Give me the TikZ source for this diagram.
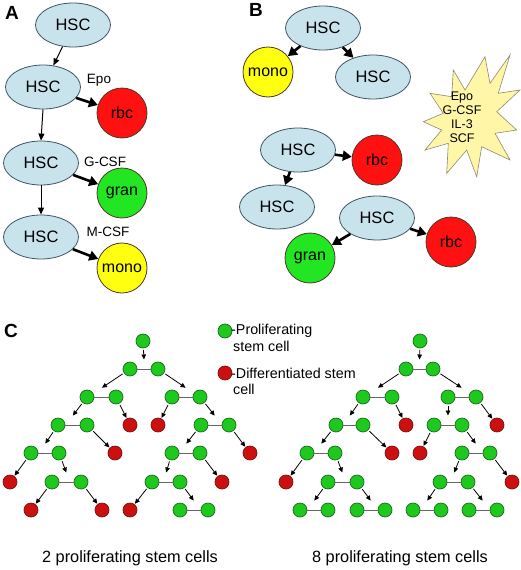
\documentclass[tikz,border=0pt]{standalone}
\usepackage{fontspec}
\setmainfont{Liberation Sans}
\usetikzlibrary{arrows.meta,shapes.geometric,calc}
\newcommand{\setfs}[1]{\fontsize{#1}{#1}\selectfont}
\definecolor{hscfill}{HTML}{C9E3EC}
\definecolor{hscdraw}{HTML}{3F5563}
\definecolor{rbcred}{HTML}{FF1111}
\definecolor{granc}{HTML}{22E622}
\definecolor{monoc}{HTML}{FFFF10}
\definecolor{celldraw}{HTML}{4A3A2A}
\definecolor{tgfill}{HTML}{1DC91D}
\definecolor{tgdraw}{HTML}{1E6A1E}
\definecolor{trfill}{HTML}{CC1010}
\definecolor{trdraw}{HTML}{7A1010}
\definecolor{starfill}{HTML}{FFF6A8}
\definecolor{stardraw}{HTML}{8C8A70}
\begin{document}
\begin{tikzpicture}[x=1pt,y=-1pt,
  hsc/.style={ellipse, draw=hscdraw, fill=hscfill, line width=0.8pt, minimum width=75pt, minimum height=44pt, inner sep=0pt, font=\setfs{16.5}},
  cellc/.style={circle, draw=celldraw, line width=0.8pt, minimum size=50pt, inner sep=0pt, font=\setfs{16}},
  rbcs/.style={cellc, fill=rbcred},
  grans/.style={cellc, fill=granc},
  monos/.style={cellc, fill=monoc},
  thinarr/.style={-{Triangle[length=7pt,width=6pt]}, line width=1pt},
  thickarr/.style={-{Triangle[length=9pt,width=10pt]}, line width=2.6pt},
  factor/.style={font=\setfs{13.5}},
  tg/.style={circle, draw=tgdraw, fill=tgfill, line width=0.7pt, minimum size=14pt, inner sep=0pt},
  tr/.style={circle, draw=trdraw, fill=trfill, line width=0.7pt, minimum size=14pt, inner sep=0pt},
  pairline/.style={draw=black!60, line width=0.9pt},
  tarr/.style={-{Triangle[length=5pt,width=4.5pt]}, line width=0.8pt, shorten <=1.5pt, shorten >=0.5pt},
  plabel/.style={font=\bfseries\setfs{19}},
  legtext/.style={anchor=west, inner sep=0pt, font=\setfs{14.3}},
  bottomtext/.style={font=\setfs{16.3}}
]
\useasboundingbox (0,0) rectangle (520,570);

% ---------- Panel A ----------
\node[plabel] (labA) at (12,13) {A};
\node[hsc] (a1) at (73,25) {HSC};
\node[hsc] (a2) at (43,87) {HSC};
\node[hsc] (a3) at (41,163) {HSC};
\node[hsc] (a4) at (41,237) {HSC};
\node[rbcs] (arbc) at (122,113) {rbc};
\node[grans] (agran) at (122,193) {gran};
\node[monos] (amono) at (122,268) {mono};
\node[factor] (epo) at (99,80) {Epo};
\node[factor] (gcsf) at (105,162) {G-CSF};
\node[factor] (mcsf) at (108,232) {M-CSF};
\draw[thinarr] (a1) -- (a2);
\draw[thinarr] (a2.south) -- (a3.north);
\draw[thinarr] (a3.south) -- (a4.north);
\draw[thickarr] (a2) -- (arbc);
\draw[thickarr] (a3) -- (agran);
\draw[thickarr] (a4) -- (amono);

% ---------- Panel B ----------
\node[plabel] (labB) at (256,10) {B};
\node[hsc] (b1) at (323,28) {HSC};
\node[monos] (bmono) at (268,72) {mono};
\node[hsc] (b2) at (373,77) {HSC};
\node[hsc] (b3) at (298,150) {HSC};
\node[rbcs] (brbc1) at (377,160) {rbc};
\node[hsc] (b4) at (277,207) {HSC};
\node[hsc] (b5) at (377,218) {HSC};
\node[rbcs] (brbc2) at (451,242) {rbc};
\node[grans] (bgran) at (310,258) {gran};
\draw[thickarr] (b1) -- (bmono);
\draw[thickarr] (b1) -- (b2);
\draw[thickarr] (b3) -- (brbc1);
\draw[thickarr] (b3) -- (b4);
\draw[thickarr] (b5) -- (brbc2);
\draw[thickarr] (b5) -- (bgran);

\draw[fill=starfill, draw=stardraw, line width=0.6pt]
  (453.3,70) -- (465,90) -- (485,56.7) -- (490,83.3) -- (510,55) -- (498.3,93.3)
  -- (520,90) -- (496.7,111.7) -- (516.7,130) -- (495,133.3) -- (510,160)
  -- (481.7,146.7) -- (476.7,176.7) -- (466.7,150) -- (446.7,173.3) -- (448.3,143.3)
  -- (425,150) -- (441.7,130) -- (423.3,121.7) -- (443.3,113.3) -- (430,93.3)
  -- (451.7,96.7) -- cycle;
\node[align=center, font=\setfs{12.5}] (factors) at (462,117)
  {Epo\\[1.5pt]G-CSF\\[1.5pt]IL-3\\[1.5pt]SCF};

% ---------- Panel C ----------
\node[plabel] (labC) at (11,331) {C};
\node[tg] (legg) at (225,331) {};
\node[legtext] (legg1) at (231,331) {-Proliferating};
\node[legtext] (legg2) at (233,346) {stem cell};
\node[tr] (legr) at (225,373) {};
\node[legtext] (legr1) at (231,373) {-Differentiated stem};
\node[legtext] (legr2) at (233,389) {cell};

% left tree
\foreach \n/\x/\y/\s in {
  L0/143/341/tg,
  L1a/130/369/tg, L1b/158/369/tg,
  L2a/87/397/tg, L2b/116/397/tg, L2c/172/397/tg, L2d/200/397/tg,
  L3a/58/425/tg, L3b/87/425/tg, L3c/130/425/tr, L3d/158/425/tr, L3e/201/425/tg, L3f/229/425/tg,
  L4a/31/453/tg, L4b/59/453/tg, L4c/115/453/tr, L4d/172/453/tg, L4e/200/453/tg, L4f/250/453/tr,
  L5a/10/482/tr, L5b/52/482/tg, L5c/81/482/tg, L5d/152/482/tg, L5e/180/482/tg, L5f/222/482/tr,
  L6a/31/510/tr, L6b/102/510/tr, L6c/130/510/tr, L6d/180/510/tg, L6e/208/510/tg}
  \node[\s] (\n) at (\x,\y) {};

% right tree
\foreach \n/\x/\y/\s in {
  R0/420/341/tg,
  R1a/406/369/tg, R1b/433/369/tg,
  R2a/363/397/tg, R2b/392/397/tg, R2c/448/397/tg, R2d/476/397/tg,
  R3a/336/425/tg, R3b/363/425/tg, R3c/406/425/tr, R3d/434/425/tg, R3e/462/425/tg, R3f/497/425/tr,
  R4a/307/453/tg, R4b/335/453/tg, R4c/392/453/tr, R4d/420/453/tr, R4e/462/453/tg, R4f/490/453/tg,
  R5a/286/482/tr, R5b/328/482/tg, R5c/357/482/tg, R5d/440/482/tg, R5e/468/482/tg, R5f/512/482/tr,
  R6a/300/510/tg, R6b/328/510/tg, R6c/357/510/tg, R6d/385/510/tg,
  R6e/413/510/tg, R6f/441/510/tg, R6g/469/510/tg, R6h/497/510/tg}
  \node[\s] (\n) at (\x,\y) {};

% pair links
\foreach \a/\b in {L1a/L1b, L2a/L2b, L2c/L2d, L3a/L3b, L3e/L3f, L4a/L4b, L4d/L4e,
  L5b/L5c, L5d/L5e, L6d/L6e,
  R1a/R1b, R2a/R2b, R2c/R2d, R3a/R3b, R3d/R3e, R4a/R4b, R4e/R4f, R5b/R5c, R5d/R5e,
  R6a/R6b, R6c/R6d, R6e/R6f, R6g/R6h}
  \draw[pairline] (\a) -- (\b);

% arrow targets above pair midpoints
\foreach \m/\a/\b in {mL1/L1a/L1b, mL2a/L2a/L2b, mL2c/L2c/L2d, mL3a/L3a/L3b, mL3e/L3e/L3f,
  mL4a/L4a/L4b, mL4d/L4d/L4e, mL5b/L5b/L5c, mL5d/L5d/L5e, mL6d/L6d/L6e,
  mR1/R1a/R1b, mR2a/R2a/R2b, mR2c/R2c/R2d, mR3a/R3a/R3b, mR3d/R3d/R3e, mR4a/R4a/R4b,
  mR4e/R4e/R4f, mR5b/R5b/R5c, mR5d/R5d/R5e, mR6a/R6a/R6b, mR6c/R6c/R6d, mR6e/R6e/R6f,
  mR6g/R6g/R6h}
  \coordinate (\m) at ($(\a)!0.5!(\b)+(0,-9)$);

\foreach \a/\b in {L0/mL1, L1a/mL2a, L1b/mL2c,
  L2a/mL3a, L2b/L3c, L2c/L3d, L2d/mL3e,
  L3a/mL4a, L3b/L4c, L3e/mL4d, L3f/L4f,
  L4a/L5a, L4b/mL5b, L4d/mL5d, L4e/L5f,
  L5b/L6a, L5c/L6b, L5d/L6c, L5e/mL6d,
  R0/mR1, R1a/mR2a, R1b/mR2c,
  R2a/mR3a, R2b/R3c, R2c/mR3d, R2d/R3f,
  R3a/mR4a, R3b/R4c, R3d/R4d, R3e/mR4e,
  R4a/R5a, R4b/mR5b, R4e/mR5d, R4f/R5f,
  R5b/mR6a, R5c/mR6c, R5d/mR6e, R5e/mR6g}
  \draw[tarr] (\a) -- (\b);

\node[bottomtext] (capL) at (130,558) {2 proliferating stem cells};
\node[bottomtext] (capR) at (400,558) {8 proliferating stem cells};
\end{tikzpicture}
\end{document}
